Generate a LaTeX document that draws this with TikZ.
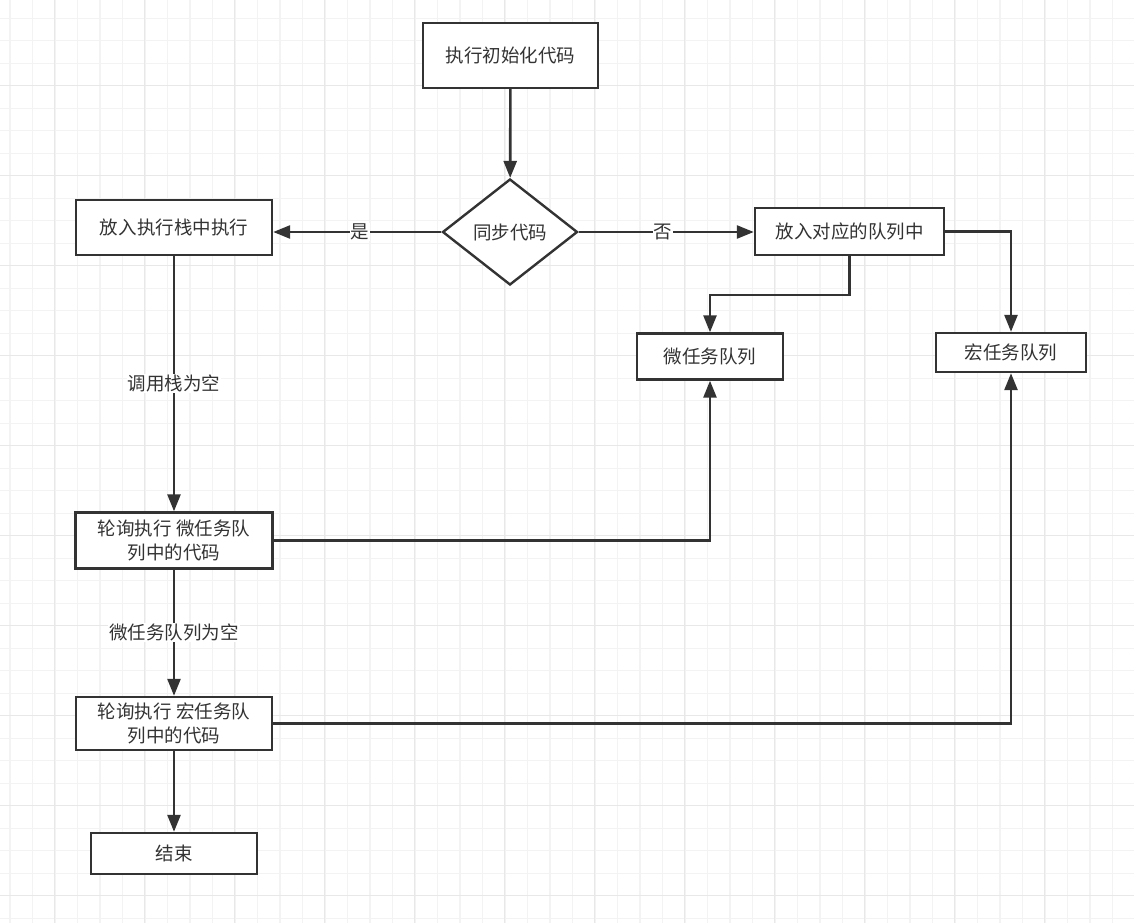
\documentclass[tikz,border=0pt]{standalone}
\usepackage{fontspec}
\setmainfont{Noto Sans CJK SC}
\usetikzlibrary{shapes.geometric,arrows.meta}
\definecolor{ink}{HTML}{333333}
\definecolor{gridminor}{HTML}{F3F3F3}
\definecolor{gridmajor}{HTML}{E8E8E8}
\tikzset{
  box/.style={draw=ink, line width=2.4bp, fill=white, text=ink, inner sep=0pt, font=\fontsize{18.5bp}{24bp}\selectfont, align=center},
  dia/.style={draw=ink, line width=2.4bp, fill=white, text=ink, diamond, inner sep=0pt, aspect=1.27, font=\fontsize{18.5bp}{24bp}\selectfont},
  conn/.style={draw=ink, line width=2.6bp, -{Triangle[length=17bp,width=13bp]}},
  lbl/.style={fill=white, text=ink, inner sep=1bp, font=\fontsize{18.5bp}{24bp}\selectfont}
}
\begin{document}
\begin{tikzpicture}[x=1bp,y=-1bp]
\useasboundingbox (0,0) rectangle (1134,923);
\fill[white] (0,0) rectangle (1134,923);
% grid
\foreach \i in {0,...,50} {
  \pgfmathsetmacro\gx{10+22.5*\i}
  \draw[gridminor, line width=1.2bp] (\gx,0) -- (\gx,923);
}
\foreach \i in {0,...,41} {
  \pgfmathsetmacro\gy{18.3+22.5*\i}
  \draw[gridminor, line width=1.2bp] (0,\gy) -- (1134,\gy);
}
\foreach \i in {0,...,12} {
  \pgfmathsetmacro\gx{54.7+90*\i}
  \draw[gridmajor, line width=1.2bp] (\gx,0) -- (\gx,923);
}
\foreach \i in {-1,...,10} {
  \pgfmathsetmacro\gy{85.7+90*\i}
  \draw[gridmajor, line width=1.2bp] (0,\gy) -- (1134,\gy);
}
% nodes
\node[box, minimum width=175bp, minimum height=65bp] (init) at (510.5,55.5) {执行初始化代码};
\node[dia, minimum width=135bp, minimum height=106bp] (sync) at (510,232) {同步代码};
\node[box, minimum width=196bp, minimum height=55bp] (stack) at (174,227.5) {放入执行栈中执行};
\node[box, minimum width=189bp, minimum height=47bp] (queue) at (849.5,231.5) {放入对应的队列中};
\node[box, minimum width=146bp, minimum height=46bp] (micro) at (710,356.5) {微任务队列};
\node[box, minimum width=150bp, minimum height=39bp] (macro) at (1011,352.5) {宏任务队列};
\node[box, minimum width=197bp, minimum height=56bp] (pollmi) at (174,540.5) {轮询执行 微任务队\\列中的代码};
\node[box, minimum width=196bp, minimum height=53bp] (pollma) at (174,723.5) {轮询执行 宏任务队\\列中的代码};
\node[box, minimum width=166bp, minimum height=41bp] (end) at (174,853.5) {结束};
% connectors
\draw[conn] (init) -- (sync);
\draw[conn] (sync.west) -- node[lbl, pos=0.485] {是} (sync.west -| stack.east);
\draw[conn] (sync.east) -- node[lbl, pos=0.48] {否} (sync.east -| queue.west);
\coordinate (qb) at (849.5,295);
\draw[conn] (queue.south) -- (qb) -| (micro.north);
\draw[conn] (queue.east) -| (macro.north);
\draw[conn] (stack) -- node[lbl, pos=0.5] {调用栈为空} (pollmi);
\draw[conn] (pollmi.east) -| (micro.south);
\draw[conn] (pollmi) -- node[lbl, pos=0.5] {微任务队列为空} (pollma);
\draw[conn] (pollma.east) -| (macro.south);
\draw[conn] (pollma) -- (end);
\end{tikzpicture}
\end{document}
